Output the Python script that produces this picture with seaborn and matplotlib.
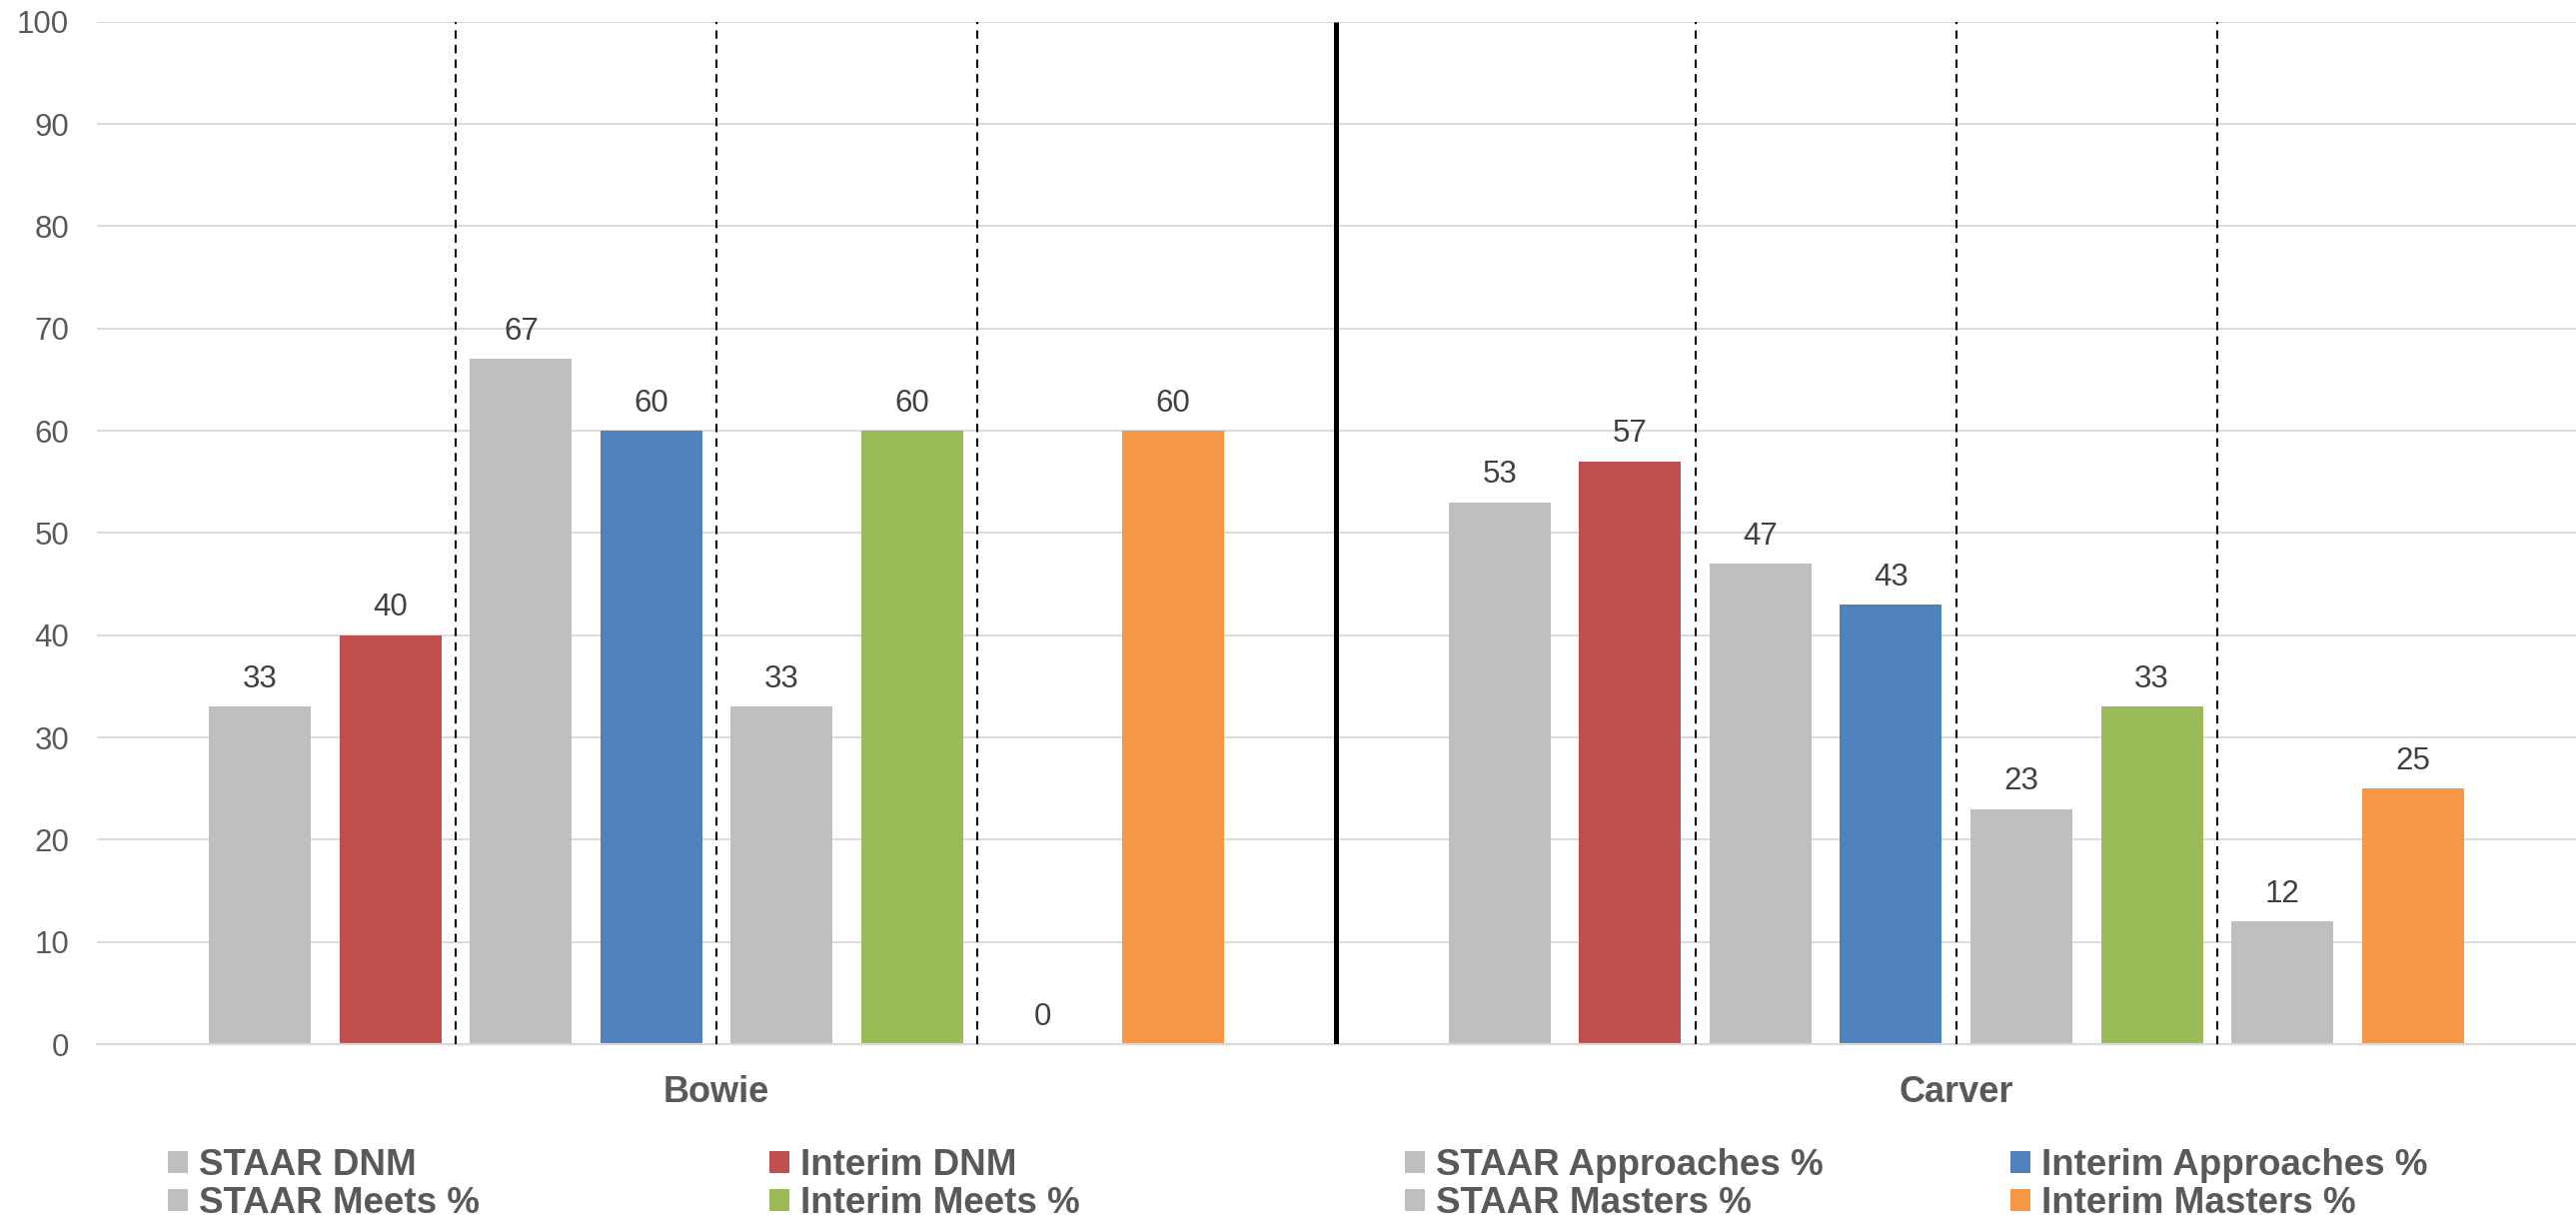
import numpy as np
import pandas as pd
import matplotlib
matplotlib.use("Agg")
import matplotlib.pyplot as plt
import seaborn as sns

schools = ["Bowie", "Carver"]
series = ["STAAR DNM", "Interim DNM",
          "STAAR Approaches %", "Interim Approaches %",
          "STAAR Meets %", "Interim Meets %",
          "STAAR Masters %", "Interim Masters %"]
bowie = [33, 40, 67, 60, 33, 60, 0, 60]
carver = [53, 57, 47, 43, 23, 33, 12, 25]
colors = ["#BFBFBF", "#C0504D", "#BFBFBF", "#4F81BD",
          "#BFBFBF", "#9BBB59", "#BFBFBF", "#F79646"]

df = pd.DataFrame({
    "school": schools[0:1] * 8 + schools[1:2] * 8,
    "series": series * 2,
    "value": bowie + carver,
})

sns.set_style("white")
plt.rcParams["font.family"] = ["Liberation Sans", "DejaVu Sans"]

fig = plt.figure(figsize=(25.78, 12.24), dpi=100)
ax = fig.add_axes([0.0376, 0.1462, 0.9624, 0.836])

sns.barplot(data=df, x="school", y="value", hue="series", hue_order=series,
            palette=colors, width=0.842, gap=0.219, errorbar=None,
            legend=False, saturation=1, linewidth=0, ax=ax)

for c in ax.containers:
    ax.bar_label(c, fmt="%d", padding=9, fontsize=22.5, color="#404040")

# separators between pairs of bars and between schools
pitch = 0.842 / 8
for i in range(2):
    for k in (-1, 0, 1):
        ax.vlines(i + k * 2 * pitch, 0, 100, colors="black", linewidth=1.5,
                  linestyles=(0, (4, 3)), zorder=3)
ax.vlines(0.5, 0, 100, colors="black", linewidth=3.6, zorder=3)

ax.set_xlim(-0.5, 1.5)
ax.set_ylim(0, 100)
ax.set_yticks(range(0, 101, 10))
ax.yaxis.grid(True, color="#D9D9D9", linewidth=1.3)
ax.set_axisbelow(True)
for s in ["top", "right", "left"]:
    ax.spines[s].set_visible(False)
ax.spines["bottom"].set_color("#D9D9D9")
ax.spines["bottom"].set_linewidth(1.6)
ax.set_xlabel("")
ax.set_ylabel("")
ax.tick_params(axis="y", length=0, pad=20, labelsize=22.5, labelcolor="#595959")
ax.tick_params(axis="x", length=0, pad=22, labelsize=26, labelcolor="#595959")
for t in ax.get_xticklabels():
    t.set_fontweight("bold")

# legend: four columns placed at fixed positions
handles = ax.containers
xs = [0.0652, 0.2987, 0.5454, 0.7805]
cols = [(0, 4), (1, 5), (2, 6), (3, 7)]
for x, (a, b) in zip(xs, cols):
    leg = fig.legend([handles[a].patches[0], handles[b].patches[0]],
                     [series[a], series[b]],
                     loc="center left", bbox_to_anchor=(x, 0.0314),
                     frameon=False, borderpad=0, borderaxespad=0,
                     handlelength=0.55, handleheight=0.55, handletextpad=0.28,
                     labelspacing=0.1,
                     prop={"size": 26.5, "weight": "bold"})
    for t in leg.get_texts():
        t.set_color("#595959")

fig.savefig("out.png", dpi=100)
